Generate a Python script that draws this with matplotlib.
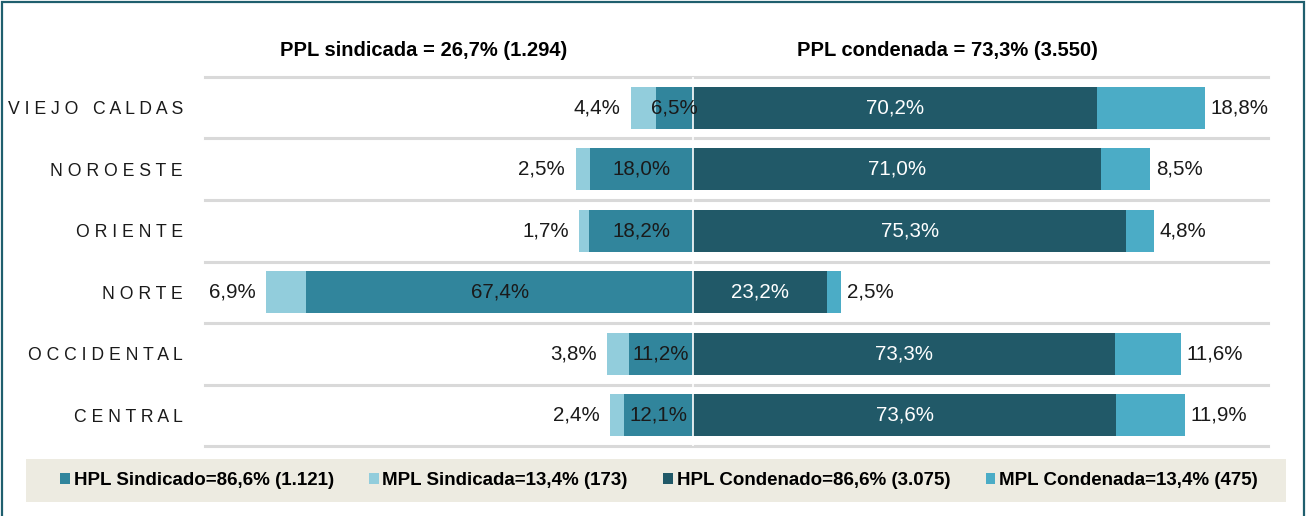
import matplotlib
matplotlib.use("Agg")
import matplotlib.pyplot as plt
from matplotlib.patches import Rectangle, Patch
import numpy as np

plt.rcParams['font.family'] = ['Liberation Sans', 'DejaVu Sans']

categories = ["VIEJO CALDAS", "NOROESTE", "ORIENTE", "NORTE", "OCCIDENTAL", "CENTRAL"]
hpl_sindicado = [6.5, 18.0, 18.2, 67.4, 11.2, 12.1]
mpl_sindicada = [4.4, 2.5, 1.7, 6.9, 3.8, 2.4]
hpl_condenado = [70.2, 71.0, 75.3, 23.2, 73.3, 73.6]
mpl_condenada = [18.8, 8.5, 4.8, 2.5, 11.6, 11.9]

title_left = "PPL sindicada = 26,7% (1.294)"
title_right = "PPL condenada = 73,3% (3.550)"
legend_labels = ["HPL Sindicado=86,6% (1.121)", "MPL Sindicada=13,4% (173)",
                 "HPL Condenado=86,6% (3.075)", "MPL Condenada=13,4% (475)"]

c_hpl_s = "#31859C"
c_mpl_s = "#92CDDC"
c_hpl_c = "#215968"
c_mpl_c = "#4BACC6"

W, H = 1306, 516
fig = plt.figure(figsize=(W / 100, H / 100), dpi=100)
ax = fig.add_axes([205 / W, 1 - 446 / H, (1268 - 205) / W, (446 - 77) / H])

y = np.arange(len(categories))
hs = np.array(hpl_sindicado)
ms = np.array(mpl_sindicada)
hc = np.array(hpl_condenado)
mc = np.array(mpl_condenada)
bh = 0.68

# separators
for b in np.arange(-0.5, len(categories), 1.0):
    ax.axhline(b, color="#D9D9D9", lw=2.2, zorder=1, clip_on=False)

b1 = ax.barh(y, -hs, height=bh, color=c_hpl_s, zorder=2)
b2 = ax.barh(y, -ms, left=-hs, height=bh, color=c_mpl_s, zorder=2)
b3 = ax.barh(y, hc, height=bh, color=c_hpl_c, zorder=2)
b4 = ax.barh(y, mc, left=hc, height=bh, color=c_mpl_c, zorder=2)
ax.axvline(0, color="white", lw=1.2, zorder=3)

def fmt(v):
    return f"{v:.1f}%".replace(".", ",")

fs = 14.8
for i in range(len(categories)):
    ax.text(-hs[i] / 2, y[i], fmt(hs[i]), ha="center", va="center", fontsize=fs, color="#1a1a1a", zorder=4)
    ax.annotate(fmt(ms[i]), (-(hs[i] + ms[i]), y[i]), xytext=(-7.5, 0), textcoords="offset points",
                ha="right", va="center", fontsize=fs, color="#1a1a1a")
    ax.text(hc[i] / 2, y[i], fmt(hc[i]), ha="center", va="center", fontsize=fs, color="white", zorder=4)
    ax.annotate(fmt(mc[i]), (hc[i] + mc[i], y[i]), xytext=(4, 0), textcoords="offset points",
                ha="left", va="center", fontsize=fs, color="#1a1a1a")

ax.set_xlim(-85, 100)
ax.set_ylim(len(categories) - 0.5, -0.5)
ax.set_xticks([])
ax.set_yticks(y)
ax.set_yticklabels(["   ".join(" ".join(w) for w in c.split(" ")) for c in categories],
                   fontsize=12.7, color="#1a1a1a")
ax.tick_params(axis="y", length=0, pad=16)
for s in ax.spines.values():
    s.set_visible(False)

fig.text(424 / W, 1 - 50 / H, title_left, ha="center", va="center", fontsize=14.5, fontweight="bold")
fig.text(947 / W, 1 - 50 / H, title_right, ha="center", va="center", fontsize=14.5, fontweight="bold")

# legend background
fig.patches.append(Rectangle((26 / W, 1 - 502 / H), (1286 - 26) / W, 43 / H, transform=fig.transFigure,
                             facecolor="#EDEBE1", edgecolor="none", zorder=0))
handles = [Patch(facecolor=c) for c in [c_hpl_s, c_mpl_s, c_hpl_c, c_mpl_c]]
leg = fig.legend(handles, legend_labels, loc="center", ncol=4, frameon=False,
                 bbox_to_anchor=(659 / W, 1 - 480.5 / H),
                 prop={"weight": "bold", "size": 13.5}, handlelength=0.5, handleheight=0.5,
                 handletextpad=0.2, columnspacing=1.9)

# border
fig.patches.append(Rectangle((1.5 / W, -0.02), (W - 3.5) / W, 1.02 - 2 / H, transform=fig.transFigure,
                             facecolor="none", edgecolor="#1F5F6E", lw=1.6, zorder=5))

fig.savefig("out.png", dpi=100)
